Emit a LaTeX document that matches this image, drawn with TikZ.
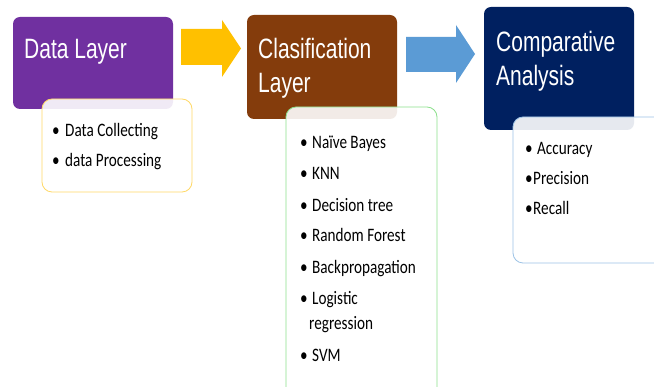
\documentclass[tikz,border=0pt]{standalone}
\usepackage{fontspec}
\newfontfamily\titlefont[FakeStretch=0.75]{Liberation Sans}
\newfontfamily\listfont[FakeStretch=0.8]{Carlito}
\definecolor{dlpurple}{HTML}{7030A0}
\definecolor{clbrown}{HTML}{843C0C}
\definecolor{canavy}{HTML}{002060}
\definecolor{arryellow}{HTML}{FFC000}
\definecolor{arrblue}{HTML}{5B9BD5}
\definecolor{bdyellow}{HTML}{FFD966}
\definecolor{bdgreen}{HTML}{8CE08C}
\definecolor{bdblue}{HTML}{9DC3E6}
\begin{document}
\begin{tikzpicture}[x=1pt,y=-1pt,
  titlebox/.style={draw=none,rectangle,rounded corners=7pt,anchor=north west,inner sep=0pt,outer sep=0pt},
  listbox/.style={rectangle,rounded corners=10pt,anchor=north west,inner sep=0pt,outer sep=0pt,fill=white,fill opacity=0.9,line width=0.8pt},
  titletext/.style={anchor=base west,inner sep=0pt,text=white,align=left,font=\titlefont\fontsize{28}{34}\selectfont},
  item/.style={anchor=base west,inner sep=0pt,text=black,font=\listfont\fontsize{19}{25}\selectfont},
  bul/.style={}]
\useasboundingbox (0,0) rectangle (654,387);
\clip (0,0) rectangle (654,387);
\fill[white] (0,0) rectangle (654,387);
% title boxes
\node[titlebox,fill=dlpurple,minimum width=160pt,minimum height=92pt] (dl) at (13,17) {};
\node[titlebox,fill=clbrown,minimum width=150pt,minimum height=104pt] (cl) at (247,15) {};
\node[titlebox,fill=canavy,minimum width=150pt,minimum height=123pt] (ca) at (484,7) {};
% block arrows
\coordinate (ya) at (181,29);
\fill[arryellow] (ya) -- (222,29) -- (222,20) -- (241,48.5) -- (222,77) -- (222,65) -- (181,65) -- cycle;
\coordinate (ba) at (406,37);
\fill[arrblue] (ba) -- (456,37) -- (456,25) -- (475,54) -- (456,83) -- (456,72) -- (406,72) -- cycle;
% titles (base anchor = baseline of last line)
\node[titletext] (tdl) at (24,59) {Data Layer};
\node[titletext] (tcl) at (258,93) {Clasification\\Layer};
\node[titletext] (tca) at (496,86) {Comparative\\Analysis};
% list boxes
\node[listbox,draw=bdyellow,minimum width=150pt,minimum height=93pt] (dlist) at (42,99) {};
\node[listbox,draw=bdgreen,minimum width=151pt,minimum height=300pt] (clist) at (286,107) {};
\node[listbox,draw=bdblue,minimum width=160pt,minimum height=146pt] (alist) at (513,117) {};
% list items
\node[item] (d1) at (52,137) {\makebox[13pt][l]{•}Data Collecting};
\node[item] (d2) at (52,167) {\makebox[13pt][l]{•}data Processing};
\node[item] (c1) at (300,149) {\makebox[12pt][l]{•}Naïve Bayes};
\node[item] (c2) at (300,180) {\makebox[12pt][l]{•}KNN};
\node[item] (c3) at (300,212) {\makebox[12pt][l]{•}Decision tree};
\node[item] (c4) at (300,242) {\makebox[12pt][l]{•}Random Forest};
\node[item] (c5) at (300,274) {\makebox[12pt][l]{•}Backpropagation};
\node[item] (c6) at (300,305) {\makebox[12pt][l]{•}Logistic};
\node[item] (c6b) at (309,330) {regression};
\node[item] (c7) at (300,362) {\makebox[12pt][l]{•}SVM};
\node[item] (a1) at (525,155) {\makebox[12pt][l]{•}Accuracy};
\node[item] (a2) at (525,185) {\makebox[8pt][l]{•}Precision};
\node[item] (a3) at (525,215) {\makebox[8pt][l]{•}Recall};
\end{tikzpicture}
\end{document}
